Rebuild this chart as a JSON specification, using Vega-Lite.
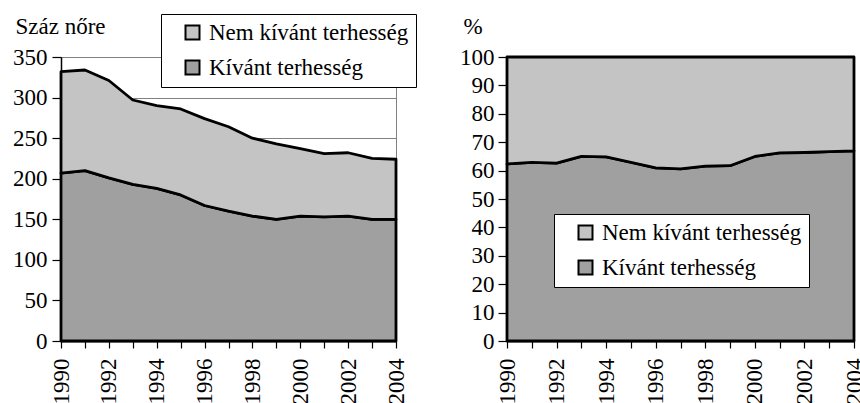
{
  "$schema": "https://vega.github.io/schema/vega-lite/v6.json",
  "background": "white",
  "padding": {"left": 12, "top": 13, "right": 5, "bottom": 0},
  "spacing": 42,
  "config": {
    "font": "Liberation Serif",
    "view": {"stroke": "#808080", "strokeWidth": 1},
    "axis": {
      "labelFontSize": 23,
      "labelColor": "black",
      "titleFontSize": 23,
      "titleFontWeight": "normal",
      "titleColor": "black",
      "domainColor": "black",
      "domainWidth": 1.5,
      "tickColor": "black",
      "tickWidth": 1.2
    },
    "legend": {
      "labelFontSize": 23,
      "labelColor": "black",
      "labelLimit": 400
    }
  },
  "data": {
    "values": [
      {"year": 1990, "type": "Kívánt terhesség", "value": 207},
      {"year": 1991, "type": "Kívánt terhesség", "value": 210},
      {"year": 1992, "type": "Kívánt terhesség", "value": 201},
      {"year": 1993, "type": "Kívánt terhesség", "value": 193},
      {"year": 1994, "type": "Kívánt terhesség", "value": 188},
      {"year": 1995, "type": "Kívánt terhesség", "value": 180},
      {"year": 1996, "type": "Kívánt terhesség", "value": 167},
      {"year": 1997, "type": "Kívánt terhesség", "value": 160},
      {"year": 1998, "type": "Kívánt terhesség", "value": 154},
      {"year": 1999, "type": "Kívánt terhesség", "value": 150},
      {"year": 2000, "type": "Kívánt terhesség", "value": 154},
      {"year": 2001, "type": "Kívánt terhesség", "value": 153},
      {"year": 2002, "type": "Kívánt terhesség", "value": 154},
      {"year": 2003, "type": "Kívánt terhesség", "value": 150},
      {"year": 2004, "type": "Kívánt terhesség", "value": 150},
      {"year": 1990, "type": "Nem kívánt terhesség", "value": 125},
      {"year": 1991, "type": "Nem kívánt terhesség", "value": 124},
      {"year": 1992, "type": "Nem kívánt terhesség", "value": 120},
      {"year": 1993, "type": "Nem kívánt terhesség", "value": 104},
      {"year": 1994, "type": "Nem kívánt terhesség", "value": 102},
      {"year": 1995, "type": "Nem kívánt terhesség", "value": 106},
      {"year": 1996, "type": "Nem kívánt terhesség", "value": 107},
      {"year": 1997, "type": "Nem kívánt terhesség", "value": 104},
      {"year": 1998, "type": "Nem kívánt terhesség", "value": 96},
      {"year": 1999, "type": "Nem kívánt terhesség", "value": 93},
      {"year": 2000, "type": "Nem kívánt terhesség", "value": 83},
      {"year": 2001, "type": "Nem kívánt terhesség", "value": 78},
      {"year": 2002, "type": "Nem kívánt terhesség", "value": 78},
      {"year": 2003, "type": "Nem kívánt terhesség", "value": 75},
      {"year": 2004, "type": "Nem kívánt terhesség", "value": 74}
    ]
  },
  "hconcat": [
    {
      "width": 335,
      "height": 284,
      "mark": {"type": "area", "stroke": "black", "strokeWidth": 2.8, "strokeJoin": "round"},
      "encoding": {
        "x": {
          "field": "year", "type": "quantitative",
          "scale": {"domain": [1990, 2004], "nice": false, "zero": false},
          "axis": {
            "values": [1990,1991,1992,1993,1994,1995,1996,1997,1998,1999,2000,2001,2002,2003,2004],
            "labelExpr": "datum.value % 2 == 0 ? datum.label : ''",
            "labelFont": "Liberation Serif",
            "format": "d", "labelAngle": -90, "labelPadding": 10, "tickSize": 7,
            "grid": false, "title": null, "labelOverlap": false, "labelFlush": false
          }
        },
        "y": {
          "field": "value", "type": "quantitative", "stack": "zero",
          "scale": {"domain": [0, 350], "nice": false},
          "axis": {
            "values": [0, 50, 100, 150, 200, 250, 300, 350],
            "labelFont": "Liberation Serif", "titleFont": "Liberation Serif",
            "tickSize": 9, "labelPadding": 5,
            "grid": true, "gridColor": "#808080", "gridWidth": 1,
            "title": "Száz nőre", "titleAngle": 0, "titleAlign": "left", "titleBaseline": "alphabetic",
            "titleX": -46, "titleY": -24
          }
        },
        "color": {
          "field": "type", "type": "nominal",
          "scale": {"domain": ["Nem kívánt terhesség", "Kívánt terhesség"], "range": ["#c4c4c4", "#a0a0a0"]},
          "legend": {
            "title": null, "orient": "none", "legendX": 100, "legendY": -43,
            "labelFont": "Liberation Serif",
            "symbolType": "square", "symbolSize": 196, "symbolStrokeColor": "black", "symbolStrokeWidth": 2,
            "symbolOpacity": 1, "symbolOffset": 13,
            "fillColor": "white", "strokeColor": "black", "padding": 7, "rowPadding": 11, "labelOffset": 5
          }
        },
        "order": {"field": "type", "sort": "ascending"}
      }
    },
    {
      "width": 347,
      "height": 284,
      "view": {"stroke": "black"},
      "mark": {"type": "area", "stroke": "black", "strokeWidth": 2.8, "strokeJoin": "round"},
      "encoding": {
        "x": {
          "field": "year", "type": "quantitative",
          "scale": {"domain": [1990, 2004], "nice": false, "zero": false},
          "axis": {
            "values": [1990,1991,1992,1993,1994,1995,1996,1997,1998,1999,2000,2001,2002,2003,2004],
            "labelExpr": "datum.value % 2 == 0 ? datum.label : ''",
            "labelFont": "Liberation Serif",
            "format": "d", "labelAngle": -90, "labelPadding": 10, "tickSize": 7,
            "grid": false, "title": null, "labelOverlap": false, "labelFlush": false
          }
        },
        "y": {
          "field": "value", "type": "quantitative", "stack": "normalize",
          "scale": {"domain": [0, 1], "nice": false},
          "axis": {
            "values": [0, 0.1, 0.2, 0.3, 0.4, 0.5, 0.6, 0.7, 0.8, 0.9, 1],
            "labelExpr": "format(round(datum.value * 100), 'd')",
            "labelFont": "Liberation Serif", "titleFont": "Liberation Serif",
            "tickSize": 9, "labelPadding": 4, "grid": false,
            "title": "%", "titleAngle": 0, "titleAlign": "left", "titleBaseline": "alphabetic",
            "titleX": -44, "titleY": -24
          }
        },
        "color": {
          "field": "type", "type": "nominal",
          "scale": {"domain": ["Nem kívánt terhesség", "Kívánt terhesség"], "range": ["#c4c4c4", "#a0a0a0"]},
          "legend": {
            "title": null, "orient": "none", "legendX": 47, "legendY": 157,
            "labelFont": "Liberation Serif",
            "symbolType": "square", "symbolSize": 196, "symbolStrokeColor": "black", "symbolStrokeWidth": 2,
            "symbolOpacity": 1, "symbolOffset": 13,
            "fillColor": "white", "strokeColor": "black", "padding": 7, "rowPadding": 11, "labelOffset": 5
          }
        },
        "order": {"field": "type", "sort": "ascending"}
      }
    }
  ],
  "resolve": {"scale": {"color": "independent"}, "legend": {"color": "independent"}}
}
